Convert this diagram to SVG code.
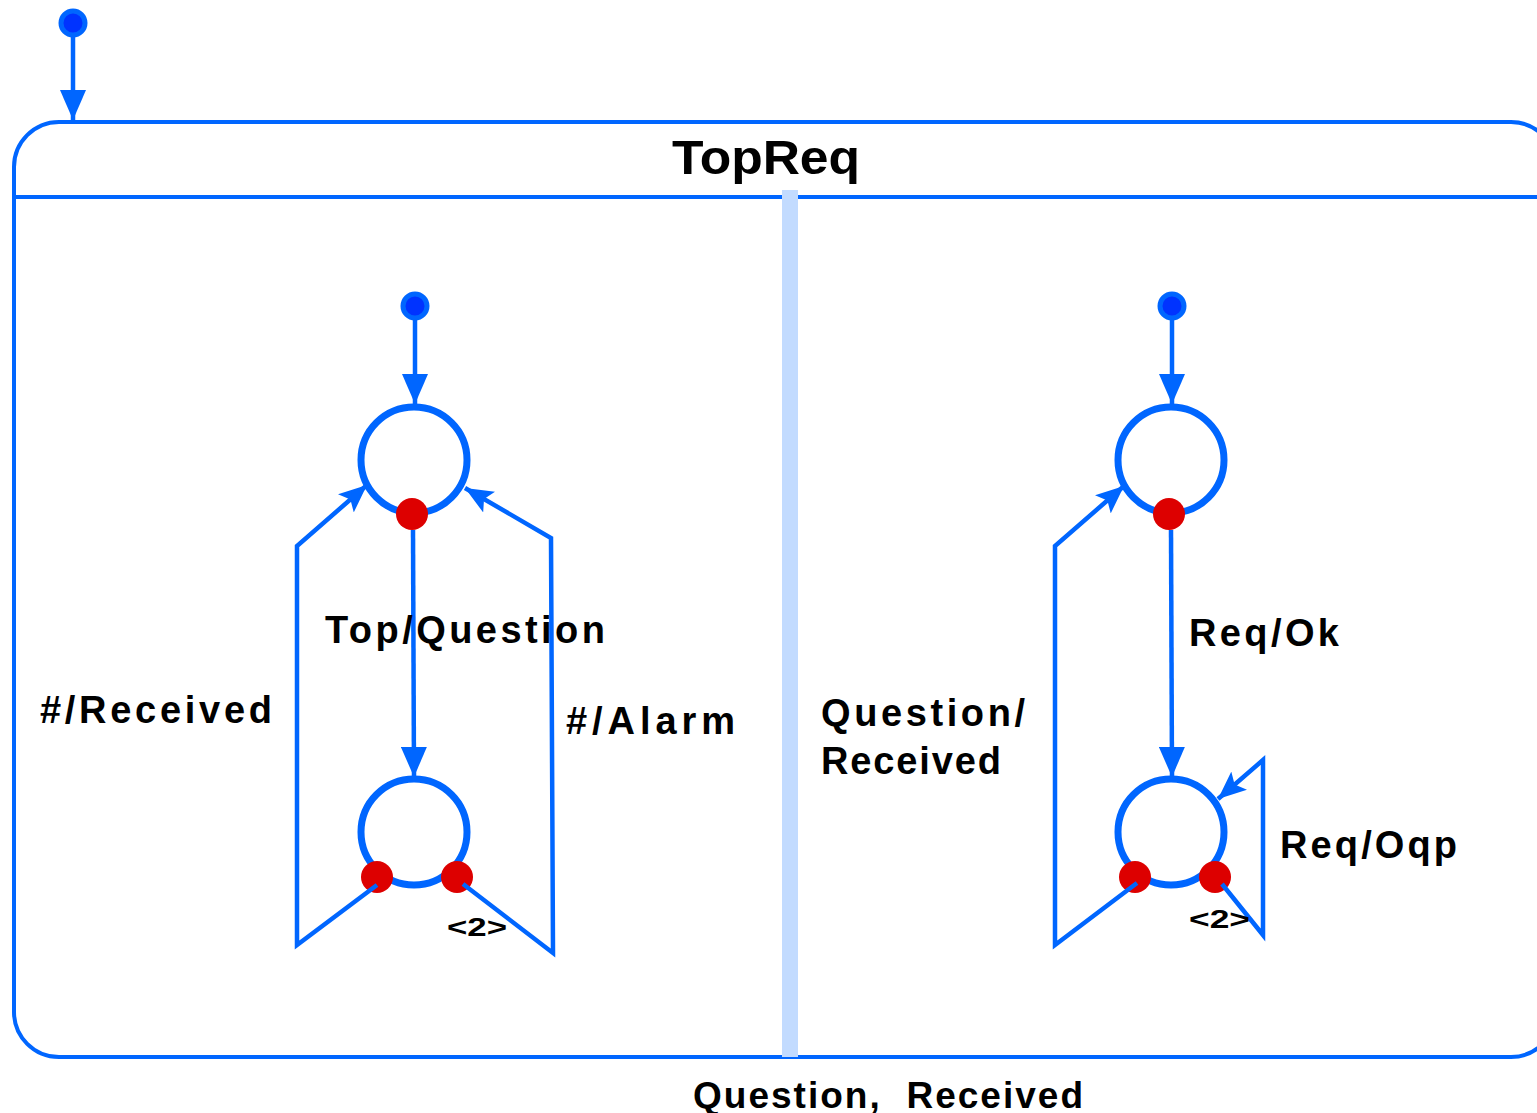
<svg xmlns="http://www.w3.org/2000/svg" width="1537" height="1113" viewBox="0 0 1537 1113">
<style>
.ln{fill:none;stroke:#0066ff;stroke-width:4.5;stroke-linejoin:miter}
.st{fill:#fff;stroke:#0066ff;stroke-width:7}
.init{fill:#0033ff;stroke:#0066ff;stroke-width:5}
.pt{fill:#dd0000}
.lbl{font-family:"Liberation Sans",Arial,sans-serif;font-weight:bold;fill:#000}
</style>
<defs>
<marker id="ah" viewBox="0 0 30 26" refX="30" refY="13" markerWidth="30" markerHeight="26" markerUnits="userSpaceOnUse" orient="auto">
<path d="M0,0 L30,13 L0,26 z" fill="#0066ff"/>
</marker>
<marker id="ah2" viewBox="0 0 28 24" refX="28" refY="12" markerWidth="28" markerHeight="24" markerUnits="userSpaceOnUse" orient="auto">
<path d="M0,0 L28,12 L0,24 L6,12 z" fill="#0066ff"/>
</marker>
</defs>

<g id="TopReq">
<rect x="14" y="122" width="1542" height="935" rx="45" ry="45" fill="none" stroke="#0066ff" stroke-width="4"/>
<line x1="14" y1="197" x2="1537" y2="197" stroke="#0066ff" stroke-width="4"/>
<rect x="782" y="190" width="16" height="867" fill="#c2dbff"/>
<text class="lbl" x="672" y="174" font-size="48" textLength="188" lengthAdjust="spacingAndGlyphs">TopReq</text>
<text class="lbl" x="693" y="1108" font-size="37" textLength="390" lengthAdjust="spacing" xml:space="preserve">Question,  Received</text>
</g>

<g id="init-top"><circle class="init" cx="73" cy="23" r="12"/></g>
<g id="init-left"><circle class="init" cx="415" cy="306" r="12"/></g>
<g id="init-right"><circle class="init" cx="1172" cy="306" r="12"/></g>

<g id="L1"><circle class="st" cx="414" cy="460" r="53"/><circle class="pt" cx="412" cy="514" r="16"/></g>
<g id="L2"><circle class="st" cx="414" cy="832" r="53"/><circle class="pt" cx="377" cy="877" r="16"/><circle class="pt" cx="457" cy="877" r="16"/></g>
<g id="R1"><circle class="st" cx="1171" cy="460" r="53"/><circle class="pt" cx="1169" cy="514" r="16"/></g>
<g id="R2"><circle class="st" cx="1171" cy="832" r="53"/><circle class="pt" cx="1135" cy="877" r="16"/><circle class="pt" cx="1215" cy="877" r="16"/></g>

<g id="connectors">
<line class="ln" x1="73" y1="36" x2="73" y2="120" marker-end="url(#ah)"/>
<line class="ln" x1="415" y1="319" x2="415" y2="404" marker-end="url(#ah)"/>
<line class="ln" x1="1172" y1="319" x2="1172" y2="404" marker-end="url(#ah)"/>
<line class="ln" x1="413" y1="530" x2="414" y2="777" marker-end="url(#ah)"/>
<line class="ln" x1="1171" y1="530" x2="1172" y2="777" marker-end="url(#ah)"/>
<polyline class="ln" points="377,885 297,945 297,546 367,485" marker-end="url(#ah2)"/>
<polyline class="ln" points="463,884 553,953 551,538 465,488" marker-end="url(#ah2)"/>
<polyline class="ln" points="1137,883 1055,945 1055,546 1124,486" marker-end="url(#ah2)"/>
<polyline class="ln" points="1222,884 1263,935 1263,760 1218,799" marker-end="url(#ah2)"/>
</g>

<g id="labels">
<text class="lbl" x="325" y="643" font-size="38" textLength="280" lengthAdjust="spacing">Top/Question</text>
<text class="lbl" x="40" y="723" font-size="38" textLength="232" lengthAdjust="spacing">#/Received</text>
<text class="lbl" x="566" y="734" font-size="38" textLength="169" lengthAdjust="spacing">#/Alarm</text>
<text class="lbl" x="821" y="726" font-size="38" textLength="204" lengthAdjust="spacing">Question/</text>
<text class="lbl" x="821" y="774" font-size="38" textLength="180" lengthAdjust="spacing">Received</text>
<text class="lbl" x="1189" y="646" font-size="38" textLength="150" lengthAdjust="spacing">Req/Ok</text>
<text class="lbl" x="1280" y="858" font-size="38" textLength="177" lengthAdjust="spacing">Req/Oqp</text>
<text class="lbl" x="447" y="936" font-size="26" textLength="60" lengthAdjust="spacingAndGlyphs">&lt;2&gt;</text>
<text class="lbl" x="1189" y="928" font-size="26" textLength="61" lengthAdjust="spacingAndGlyphs">&lt;2&gt;</text>
</g>
</svg>
